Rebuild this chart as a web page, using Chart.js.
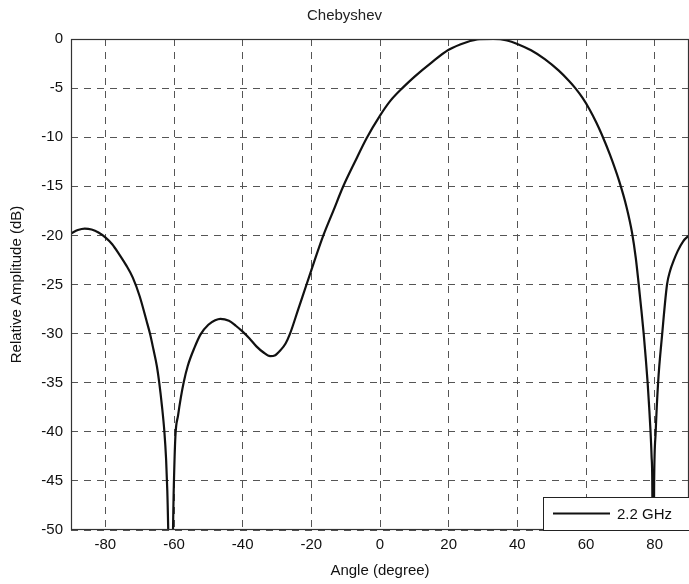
<!DOCTYPE html>
<html>
<head>
<meta charset="utf-8">
<title>Chebyshev</title>
<script src="https://cdn.jsdelivr.net/npm/chart.js@4.4.1/dist/chart.umd.min.js"></script>
<style>
  html, body { margin: 0; padding: 0; background: #fff; }
  #wrap { width: 689px; height: 584px; }
</style>
</head>
<body>
<div id="wrap"><canvas id="pattern"></canvas></div>
<script>
// array factor of the Chebyshev-weighted array, 2.2 GHz
const angles = [
  -90, -88, -86, -84, -82, -80, -78, -76, -74, -72,
  -70, -68, -67, -66, -65, -64.3, -63.5, -62.8, -62.3, -61.95,
  -60.9, -60.05, -59.6, -58.8, -58.0, -57.2, -56, -54, -52.3, -50,
  -48, -46.5, -44, -42, -40, -38, -36, -34, -32, -30.5,
  -29, -27.5, -26.2, -23.8, -21.4, -19, -16.5, -13.6, -10.7, -7.3,
  -3.9, 0, 3, 6.8, 10, 15, 20, 25, 29, 33,
  37, 40, 44, 48, 52, 55, 57, 59, 61, 63,
  64.5, 67, 69.6, 71.8, 73.4, 74.5, 75.3, 76.1, 76.8, 77.4,
  77.95, 78.4, 78.8, 79.1, 79.3, 79.55, 79.85, 80.3, 81.0, 82.2,
  83.6, 84.5, 85.5, 86.7, 88.3, 90
];
const amplitude = [
  -19.8, -19.45, -19.3, -19.4, -19.7, -20.2, -20.9, -21.9, -23.0, -24.3,
  -26.2, -28.7, -30.0, -31.6, -33.3, -35.0, -37.4, -40.0, -42.8, -46.0,
  -60.0, -45.5, -40.5, -38.3, -36.5, -35.0, -33.3, -31.4, -30.1, -29.1,
  -28.65, -28.5, -28.7, -29.2, -29.8, -30.5, -31.3, -31.9, -32.3, -32.2,
  -31.7, -31.0, -30.0, -27.5, -25.0, -22.5, -20.0, -17.5, -15.0, -12.5,
  -10.1, -7.8, -6.3, -4.9, -3.85, -2.4, -1.1, -0.35, -0.02, 0,
  -0.15, -0.5, -1.15, -2.05, -3.2, -4.25, -5.05, -6.0, -7.15, -8.5,
  -9.65, -11.8, -14.4, -17.1, -19.7, -22.3, -24.8, -27.5, -30.0, -32.5,
  -35.0, -37.5, -40.0, -42.5, -45.0, -60.0, -45.0, -40.0, -35.0, -30.0,
  -25.0, -23.6, -22.6, -21.6, -20.6, -20.0
];
const seriesLabel = '2.2 GHz';
const xTicks = [-80, -60, -40, -20, 0, 20, 40, 60, 80];
const yTicks = [-50, -45, -40, -35, -30, -25, -20, -15, -10, -5, 0];

const FONT = 'Arial, "Liberation Sans", Helvetica, sans-serif';
const points = angles.map((a, i) => ({ x: a, y: amplitude[i] }));

// solid frame round the plot + legend box in the lower right corner
const frameAndLegend = {
  id: 'frameAndLegend',
  afterDatasetsDraw(chart) {
    const { ctx, chartArea: a } = chart;
    ctx.save();
    ctx.strokeStyle = '#333';
    ctx.lineWidth = 1.2;
    ctx.setLineDash([]);
    ctx.strokeRect(a.left + 0.5, a.top + 0.5, a.right - a.left - 1, a.bottom - a.top - 1);

    const ds = chart.data.datasets[0];
    const w = 146, h = 33;
    const lx = a.right - w, ly = a.bottom - h;
    ctx.fillStyle = '#fff';
    ctx.fillRect(lx, ly, w, h);
    ctx.strokeStyle = '#222';
    ctx.lineWidth = 1;
    ctx.strokeRect(lx + 0.5, ly + 0.5, w, h);
    ctx.strokeStyle = ds.borderColor;
    ctx.lineWidth = ds.borderWidth;
    ctx.beginPath();
    ctx.moveTo(lx + 10, ly + h / 2);
    ctx.lineTo(lx + 67, ly + h / 2);
    ctx.stroke();
    ctx.fillStyle = '#111';
    ctx.font = '15px ' + FONT;
    ctx.textBaseline = 'middle';
    ctx.fillText(ds.label, lx + 74, ly + h / 2 + 1);
    ctx.restore();
  }
};

new Chart(document.getElementById('pattern'), {
  type: 'line',
  data: {
    datasets: [{
      label: seriesLabel,
      data: points,
      borderColor: '#111',
      borderWidth: 2.2,
      pointRadius: 0,
      cubicInterpolationMode: 'monotone',
      fill: false
    }]
  },
  options: {
    responsive: true,
    maintainAspectRatio: false,
    animation: false,
    layout: { padding: 0 },
    plugins: {
      legend: { display: false },
      tooltip: { enabled: false },
      title: {
        display: true,
        text: 'Chebyshev',
        color: '#222',
        font: { family: FONT, size: 15, weight: 'normal' },
        padding: { top: 7, bottom: 14 }
      }
    },
    scales: {
      x: {
        type: 'linear',
        min: -90,
        max: 90,
        afterBuildTicks: s => { s.ticks = xTicks.map(v => ({ value: v })); },
        afterFit: s => { s.height = 54; },
        ticks: { color: '#111', font: { family: FONT, size: 15 }, padding: 6 },
        grid: { color: '#555', lineWidth: 1, drawTicks: false },
        border: { display: false, dash: [7, 6] },
        title: {
          display: true,
          text: 'Angle (degree)',
          color: '#111',
          font: { family: FONT, size: 15 },
          padding: { top: 0, bottom: 4 }
        }
      },
      y: {
        type: 'linear',
        min: -50,
        max: 0,
        afterBuildTicks: s => { s.ticks = yTicks.map(v => ({ value: v })); },
        afterFit: s => { s.width = 71; },
        ticks: { color: '#111', font: { family: FONT, size: 15 }, padding: 8 },
        grid: { color: '#555', lineWidth: 1, drawTicks: false },
        border: { display: false, dash: [7, 6] },
        title: {
          display: true,
          text: 'Relative Amplitude (dB)',
          color: '#111',
          font: { family: FONT, size: 15 },
          padding: { top: 8, bottom: 0 }
        }
      }
    }
  },
  plugins: [frameAndLegend]
});
</script>
</body>
</html>
